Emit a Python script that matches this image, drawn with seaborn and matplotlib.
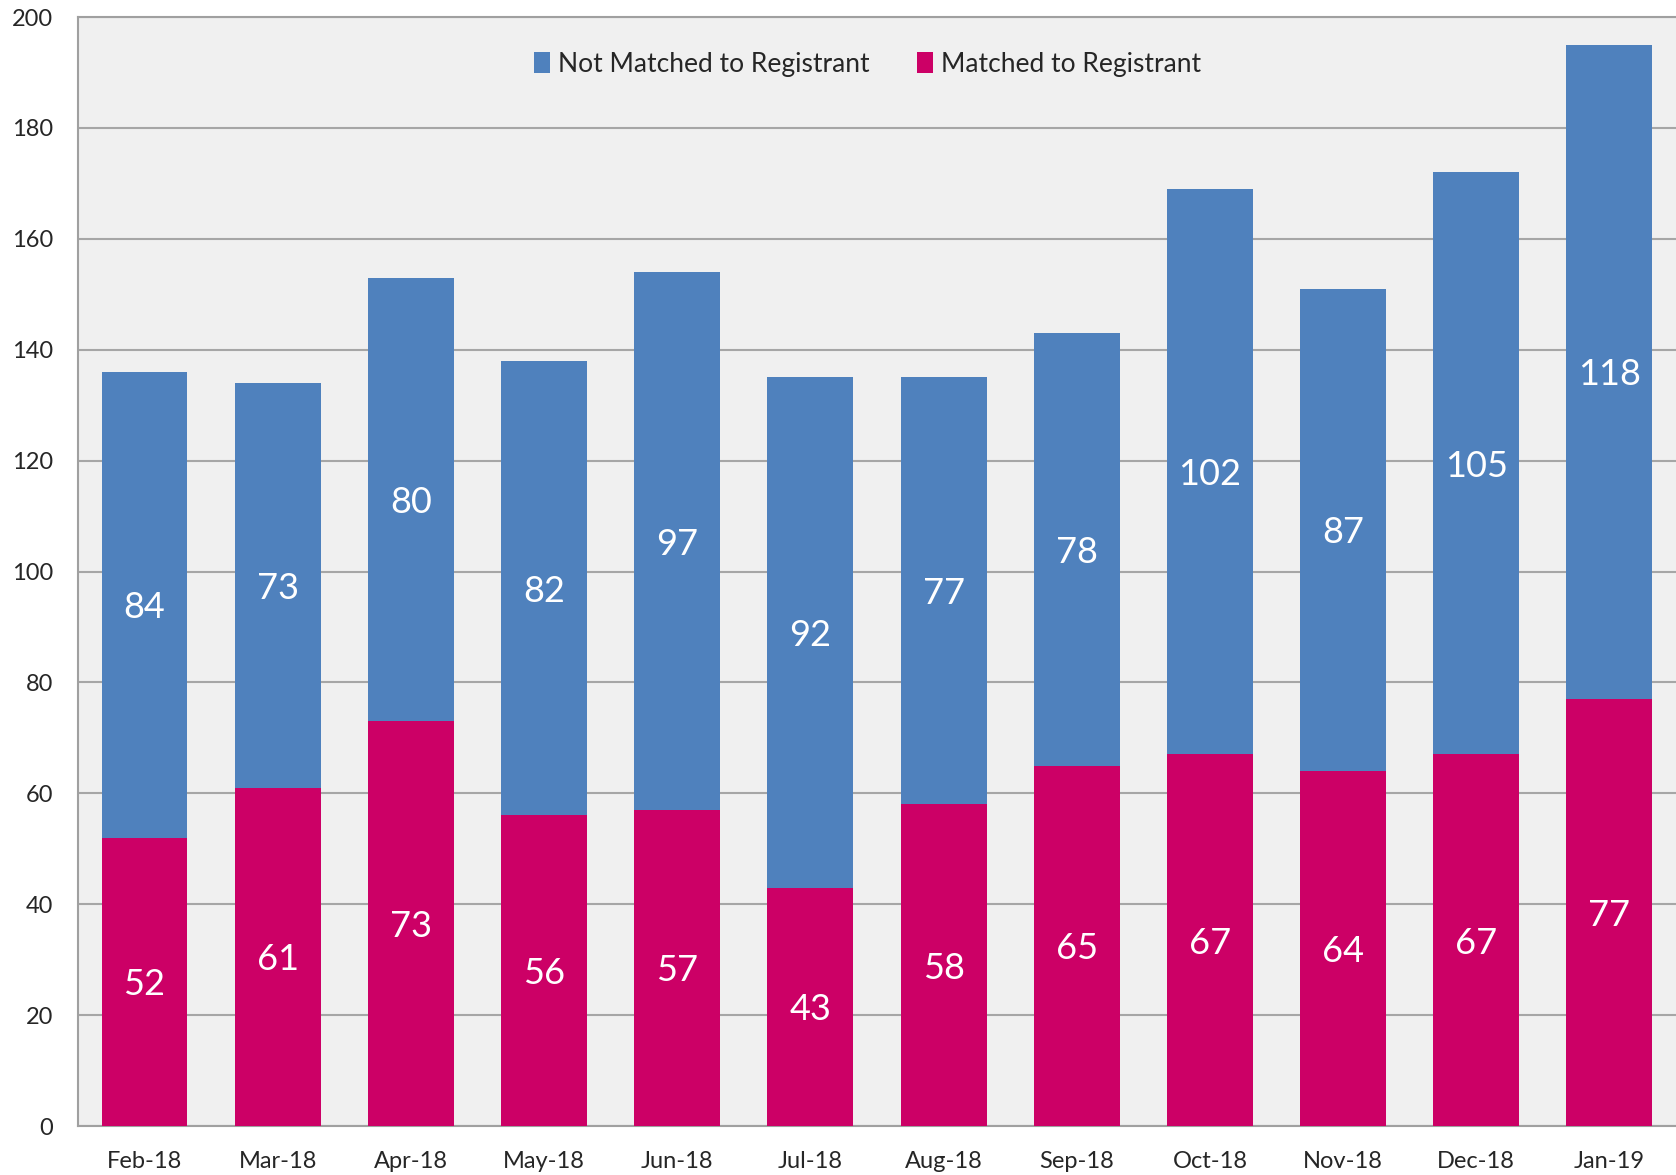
import numpy as np
import pandas as pd
import seaborn as sns
import matplotlib.pyplot as plt

# Monthly counts
months = ['Feb-18', 'Mar-18', 'Apr-18', 'May-18', 'Jun-18', 'Jul-18',
          'Aug-18', 'Sep-18', 'Oct-18', 'Nov-18', 'Dec-18', 'Jan-19']
matched = [52, 61, 73, 56, 57, 43, 58, 65, 67, 64, 67, 77]
not_matched = [84, 73, 80, 82, 97, 92, 77, 78, 102, 87, 105, 118]

BLUE = '#4f81bd'
MAGENTA = '#cc0066'

df = pd.DataFrame({'month': months, 'matched': matched, 'not_matched': not_matched})
df['total'] = df['matched'] + df['not_matched']

sns.set_theme(style='white')
plt.rcParams['font.family'] = ['Lato', 'DejaVu Sans']

fig = plt.figure(figsize=(16.76, 11.75), dpi=100)
ax = fig.add_axes([0.0465, 0.0417, 0.9535, 0.9438])
ax.set_facecolor('#f0f0f0')

# stacked look: total in blue, matched drawn over it
sns.barplot(data=df, x='month', y='total', color=BLUE, width=0.645,
            saturation=1, linewidth=0, ax=ax, label='Not Matched to Registrant', zorder=2)
sns.barplot(data=df, x='month', y='matched', color=MAGENTA, width=0.645,
            saturation=1, linewidth=0, ax=ax, label='Matched to Registrant', zorder=3)

# segment labels
for i, row in df.iterrows():
    ax.text(i, row['matched'] / 2, str(row['matched']), ha='center', va='center_baseline',
            color='white', fontsize=26, zorder=4)
    ax.text(i, row['matched'] + row['not_matched'] / 2, str(row['not_matched']),
            ha='center', va='center_baseline', color='white', fontsize=26, zorder=4)

ax.set_ylim(0, 200)
ax.set_xlim(-0.5, 11.5)
ax.set_yticks(range(0, 201, 20))
ax.yaxis.grid(True, color='#a6a6a6', linewidth=1.5, zorder=0)
ax.set_axisbelow(True)
ax.set_xlabel('')
ax.set_ylabel('')
ax.tick_params(axis='y', labelsize=17, length=0, pad=18)
ax.tick_params(axis='x', labelsize=17, length=0, pad=18)

for side in ['left', 'bottom', 'top']:
    ax.spines[side].set_color('#a0a0a0')
    ax.spines[side].set_linewidth(1.5)
ax.spines['right'].set_visible(False)

ax.legend(loc='upper center', bbox_to_anchor=(0.494, 0.99), ncol=2, frameon=False,
          fontsize=19, handlelength=0.6, handleheight=0.85, handletextpad=0.3,
          columnspacing=1.8)

fig.savefig('out.png', dpi=100)
